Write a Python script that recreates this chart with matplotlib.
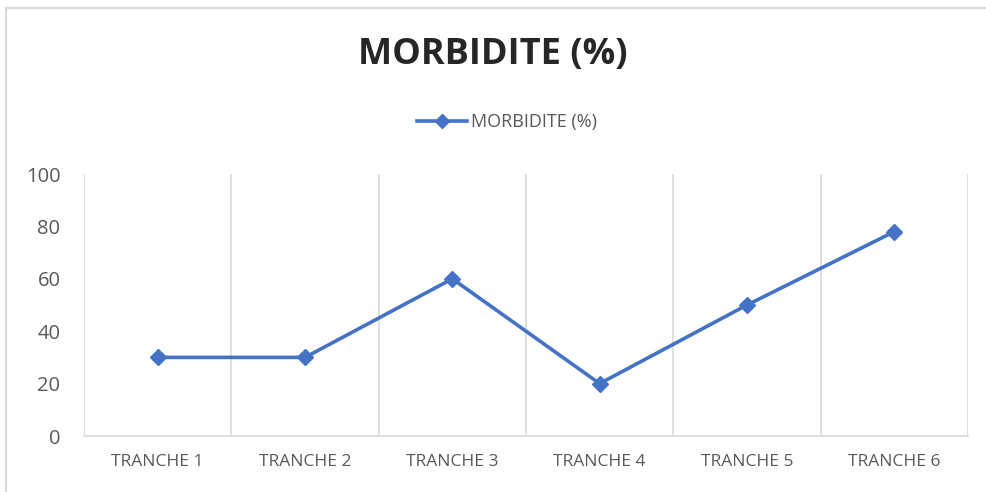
import numpy as np
import matplotlib.pyplot as plt
from matplotlib.lines import Line2D

# data
categories = ["TRANCHE 1", "TRANCHE 2", "TRANCHE 3", "TRANCHE 4", "TRANCHE 5", "TRANCHE 6"]
morbidite = [30, 30, 60, 20, 50, 78]
y_ticks = [0, 20, 40, 60, 80, 100]
series_name = "MORBIDITE (%)"
title = "MORBIDITE (%)"

blue = "#4472C4"
grid_gray = "#D9D9D9"
text_gray = "#595959"

plt.rcParams['font.family'] = ['Open Sans', 'DejaVu Sans']

fig = plt.figure(figsize=(9.86, 4.92), dpi=100)
ax = fig.add_axes([84 / 986, 56 / 492, 884 / 986, 262 / 492])

x = np.arange(1, len(categories) + 1)
ax.plot(x, morbidite, color=blue, lw=2.6, marker='D', markersize=8,
        markeredgecolor=blue, markerfacecolor=blue, solid_joinstyle='round')

ax.set_xlim(0.5, len(categories) + 0.5)
ax.set_ylim(0, 100)
ax.set_yticks(y_ticks)
ax.set_xticks(x)
ax.set_xticklabels(categories)

# vertical grid at category boundaries
for b in np.arange(0.5, len(categories) + 1, 1.0):
    ax.axvline(b, color=grid_gray, lw=1.2, zorder=0)

for s in ['top', 'right', 'left']:
    ax.spines[s].set_visible(False)
ax.spines['bottom'].set_color(grid_gray)
ax.spines['bottom'].set_linewidth(1.2)

ax.tick_params(axis='both', length=0, colors=text_gray)
ax.tick_params(axis='y', labelsize=14.5, pad=17)
ax.tick_params(axis='x', labelsize=12.5, pad=13)

# title and legend
fig.text(0.5, 1 - 55 / 492, title, ha='center', va='center',
         fontsize=26, fontweight='bold', color='#262626')
handle = Line2D([], [], color=blue, lw=2.6, marker='D', markersize=7)
fig.legend([handle], [series_name], loc='center', bbox_to_anchor=(0.514, 1 - 122 / 492),
           frameon=False, fontsize=13, labelcolor=text_gray, handlelength=2.8,
           handletextpad=0.2)

# chart border (top and left visible)
fig.add_artist(Line2D([6 / 986, 1], [1 - 8 / 492, 1 - 8 / 492], color='#D9D9D9', lw=1.5))
fig.add_artist(Line2D([6 / 986, 6 / 986], [0, 1 - 8 / 492], color='#D9D9D9', lw=1.5))

fig.savefig("out.png", dpi=100)
